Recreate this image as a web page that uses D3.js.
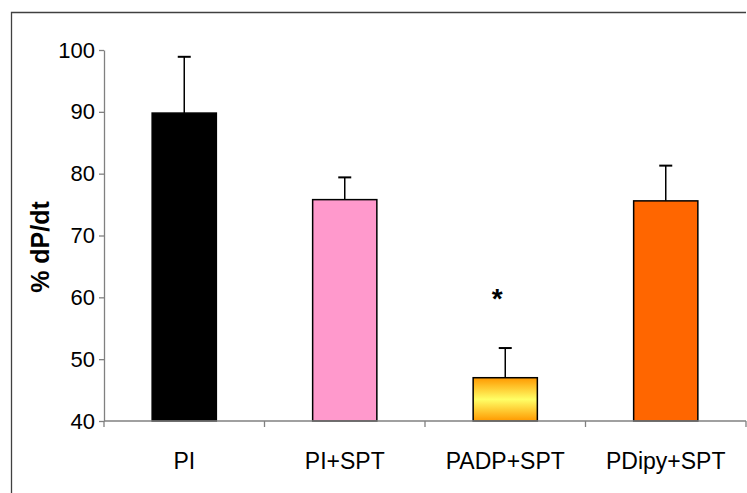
<!DOCTYPE html>
<html lang="en">
<head>
	<meta charset="UTF-8"/>
	<title>% dP/dt bar chart</title>
	<script src="https://d3js.org/d3.v7.min.js"></script>
	<style>
		body { margin: 0; background: #fff; }
		text { font-family: Arial, "Liberation Sans", sans-serif; }
	</style>
</head>
<body>
<script>
	// data
	var categories = ["PI", "PI+SPT", "PADP+SPT", "PDipy+SPT"];
	var means = [89.8, 75.8, 47.0, 75.6];
	var errors = [9.1, 3.6, 4.8, 5.7];
	var yTicks = [40, 50, 60, 70, 80, 90, 100];
	var fills = ["#000000", "#ff99cc", "url(#goldGrad)", "#ff6600"];

	var w = 747;
	var h = 493;
	// plot area edges (note: "top" is reserved on window, so use p* names)
	var pLeft = 104, pRight = 746, pTop = 50, pBottom = 421;

	var svg = d3.select("body")
				.append("svg")
				.attr("width", w)
				.attr("height", h);

	// gradient for the third bar
	var grad = svg.append("defs").append("linearGradient")
				.attr("id", "goldGrad")
				.attr("x1", 0).attr("y1", 0).attr("x2", 0).attr("y2", 1);
	grad.append("stop").attr("offset", "0%").attr("stop-color", "#ff9900");
	grad.append("stop").attr("offset", "50%").attr("stop-color", "#ffff66");
	grad.append("stop").attr("offset", "100%").attr("stop-color", "#ff9900");

	// outer frame (top + left only visible)
	svg.append("path")
		.attr("d", "M11.5," + h + "V12.5H746")
		.attr("fill", "none")
		.attr("stroke", "#404040")
		.attr("stroke-width", 1.3);

	var xScale = d3.scaleBand()
				.domain(categories)
				.range([pLeft, pRight])
				.paddingInner(0.6)
				.paddingOuter(0.3);

	var yScale = d3.scaleLinear()
				.domain([40, 100])
				.range([pBottom, pTop]);

	//-------- error bars (drawn under the bars) --------
	var err = svg.selectAll(".err")
				.data(categories)
				.enter()
				.append("g")
				.attr("class", "err")
				.attr("stroke", "#000")
				.attr("stroke-width", 1.5);
	err.append("line")
		.attr("x1", function(d) { return xScale(d) + xScale.bandwidth() / 2; })
		.attr("x2", function(d) { return xScale(d) + xScale.bandwidth() / 2; })
		.attr("y1", function(d, i) { return yScale(means[i]); })
		.attr("y2", function(d, i) { return yScale(means[i] + errors[i]); });
	err.append("line")
		.attr("stroke-width", 2)
		.attr("x1", function(d) { return xScale(d) + xScale.bandwidth() / 2 - 6.5; })
		.attr("x2", function(d) { return xScale(d) + xScale.bandwidth() / 2 + 6.5; })
		.attr("y1", function(d, i) { return yScale(means[i] + errors[i]); })
		.attr("y2", function(d, i) { return yScale(means[i] + errors[i]); });

	//-------- bars --------
	svg.selectAll("rect.bar")
		.data(categories)
		.enter()
		.append("rect")
		.attr("class", "bar")
		.attr("x", function(d) { return xScale(d); })
		.attr("y", function(d, i) { return yScale(means[i]); })
		.attr("width", xScale.bandwidth())
		.attr("height", function(d, i) { return yScale(40) - yScale(means[i]); })
		.attr("fill", function(d, i) { return fills[i]; })
		.attr("stroke", "#000")
		.attr("stroke-width", 1.5);

	//-------- axes --------
	var yAxis = svg.append("g")
				.attr("transform", "translate(" + pLeft + ",0)")
				.call(d3.axisLeft(yScale).tickValues(yTicks).tickSize(5).tickPadding(4).tickSizeOuter(0));
	yAxis.attr("font-family", null).attr("font-size", null);
	yAxis.selectAll("text").attr("font-size", "22px").attr("fill", "#000");
	yAxis.selectAll("line, path").attr("stroke", "#808080").attr("stroke-width", 1.3);

	var xAxis = svg.append("g")
				.attr("transform", "translate(0," + pBottom + ")");
	xAxis.append("line")
		.attr("x1", pLeft).attr("x2", pRight)
		.attr("y1", 0).attr("y2", 0);
	// category boundary ticks
	xAxis.selectAll(".xt")
		.data(d3.range(categories.length + 1))
		.enter()
		.append("line")
		.attr("class", "xt")
		.attr("x1", function(i) { return pLeft + i * (pRight - pLeft) / categories.length; })
		.attr("x2", function(i) { return pLeft + i * (pRight - pLeft) / categories.length; })
		.attr("y1", 0).attr("y2", 6);
	xAxis.selectAll("line").attr("stroke", "#808080").attr("stroke-width", 1.3);
	xAxis.selectAll(".xl")
		.data(categories)
		.enter()
		.append("text")
		.attr("class", "xl")
		.attr("x", function(d) { return xScale(d) + xScale.bandwidth() / 2; })
		.attr("y", 48)
		.attr("text-anchor", "middle")
		.attr("font-size", "23px")
		.text(function(d) { return d; });

	// y axis title
	svg.append("text")
		.attr("transform", "translate(49,247) rotate(-90)")
		.attr("text-anchor", "middle")
		.attr("font-size", "25px")
		.attr("font-weight", "bold")
		.text("% dP/dt");

	// significance mark
	svg.append("text")
		.attr("x", xScale("PADP+SPT") + xScale.bandwidth() / 2 - 8)
		.attr("y", yScale(58.3))
		.attr("text-anchor", "middle")
		.attr("font-size", "28px")
		.attr("font-weight", "bold")
		.text("*");
</script>
</body>
</html>
